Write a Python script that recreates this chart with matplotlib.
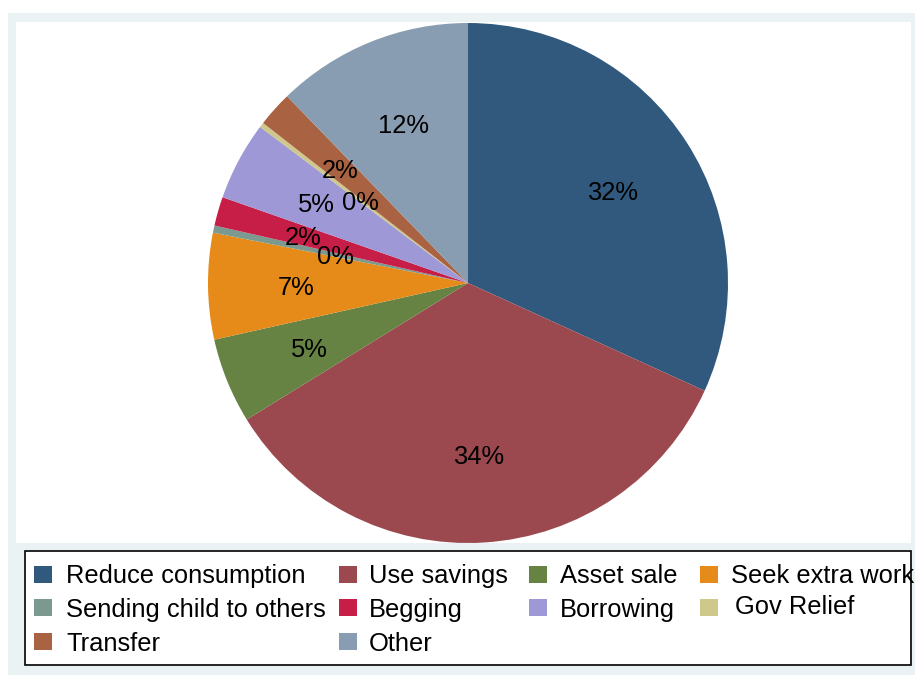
import matplotlib.pyplot as plt
from matplotlib.patches import Rectangle
import numpy as np

plt.rcParams['font.family'] = ['Liberation Sans', 'DejaVu Sans']

categories = ['Reduce consumption', 'Use savings', 'Asset sale', 'Seek extra work',
              'Sending child to others', 'Begging', 'Borrowing', 'Gov Relief',
              'Transfer', 'Other']
shares = [31.8, 34.4, 5.3, 6.6, 0.45, 1.8, 4.9, 0.3, 2.2, 12.25]
colors = ['#31597e', '#9b494f', '#668344', '#e68b19', '#7c9990',
          '#c71e48', '#9e98d6', '#cfc88b', '#a96342', '#889db1']

W, H = 915, 675
FS = 18.4


def px_rect(x0, y0, x1, y1, **kw):
    # rectangle given in pixel coords measured from the top-left corner
    return Rectangle((x0 / W, 1 - y1 / H), (x1 - x0) / W, (y1 - y0) / H,
                     transform=fig.transFigure, **kw)


fig = plt.figure(figsize=(W / 100, H / 100), dpi=100)
fig.patch.set_facecolor('white')
fig.add_artist(px_rect(8, 13, 915, 675, facecolor='#eaf2f3', edgecolor='none', zorder=0))
fig.add_artist(px_rect(16, 22, 911, 543, facecolor='white', edgecolor='none', zorder=0))

ax = fig.add_axes([208 / W, 1 - 543 / H, 520 / W, 520 / H])
wedges, texts, autotexts = ax.pie(shares, colors=colors, startangle=90, counterclock=False,
                                  autopct='%1.0f%%', pctdistance=0.66,
                                  wedgeprops=dict(linewidth=0),
                                  textprops=dict(fontsize=FS, color='black'))
ax.set_xlim(-1, 1)
ax.set_ylim(-1, 1)
ax.set_facecolor('none')

for w, t, v in zip(wedges, autotexts, shares):
    t.set_verticalalignment('center_baseline')
    # tiny slices get their labels pulled in closer to the centre
    if v < 0.5:
        mid = np.deg2rad((w.theta1 + w.theta2) / 2)
        t.set_position((0.52 * np.cos(mid), 0.52 * np.sin(mid)))

# legend box
fig.add_artist(px_rect(25, 551, 911, 665, facecolor='white', edgecolor='black',
                       linewidth=1.2, zorder=2))
col_key_x = [34, 339, 529, 700]
col_text_x = [66, 369, 560, 731]
row_y = [575, 608, 642]
row_base = [583, 617, 651]
for i, (name, c) in enumerate(zip(categories, colors)):
    r, col = divmod(i, 4)
    kx, ky = col_key_x[col], row_y[r]
    tx = col_text_x[col] + (4 if name == 'Gov Relief' else 0)
    ty = row_base[r] - (3 if name == 'Gov Relief' else 0)
    fig.add_artist(px_rect(kx, ky - 9, kx + 18, ky + 8, facecolor=c, edgecolor='none', zorder=3))
    fig.text(tx / W, 1 - ty / H, name, fontsize=FS, ha='left', va='baseline', zorder=3)

fig.savefig('out.png', dpi=100)
